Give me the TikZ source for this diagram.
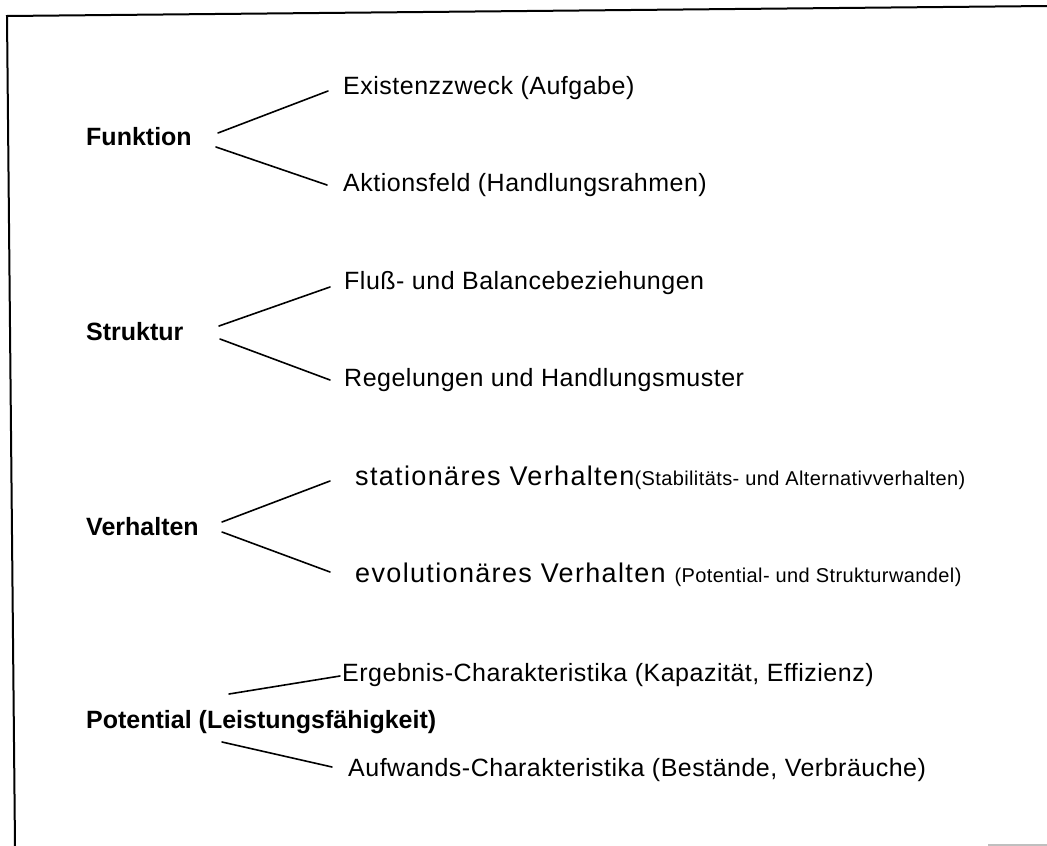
\documentclass[tikz,border=0pt]{standalone}
\usepackage{fontspec}
\setmainfont{Liberation Sans}
\newfontfamily\itemfont[LetterSpace=2]{Liberation Sans}
\newfontfamily\wideitemfont[LetterSpace=5]{Liberation Sans}
\begin{document}
\begin{tikzpicture}[x=1pt,y=-1pt,
  lbl/.style={anchor=west,inner sep=0pt,font=\fontsize{25}{29}\selectfont\bfseries},
  item/.style={anchor=west,inner sep=0pt,font=\fontsize{25}{29}\selectfont\itemfont},
  wideitem/.style={anchor=west,inner sep=0pt,font=\fontsize{27}{31}\selectfont\wideitemfont},
  conn/.style={line width=1.6pt,line cap=round},
  frame/.style={line width=2pt}]
\useasboundingbox (0,0) rectangle (1047,846);
\newcommand{\sm}[1]{{\fontsize{20}{24}\selectfont\itemfont #1}}
% frame
\coordinate (tl) at (7,16);
\coordinate (tr) at (1047,6);
\coordinate (bl) at (15,846);
\draw[frame] (tr) -- (tl) -- (bl);
\coordinate (g1) at (988,845);
\coordinate (g2) at (1047,845);
\draw[gray!50,line width=1.5pt] (g1) -- (g2);
% Funktion
\node[lbl] (fun) at (86,137) {Funktion};
\node[item] (ex) at (343,88) {Existenzzweck (Aufgabe)};
\node[item] (ak) at (343,185) {Aktionsfeld (Handlungsrahmen)};
\coordinate (fa) at (218,133);
\coordinate (fb) at (216,147);
\draw[conn] (fa) -- ([xshift=-15pt,yshift=-3pt]ex.west);
\draw[conn] (fb) -- ([xshift=-16pt]ak.west);
% Struktur
\node[lbl] (str) at (86,332) {Struktur};
\node[item] (fl) at (344,283) {Fluß- und Balancebeziehungen};
\node[item] (re) at (344,380) {Regelungen und Handlungsmuster};
\coordinate (sa) at (219,326);
\coordinate (sb) at (220,339);
\draw[conn] (sa) -- ([xshift=-14pt,yshift=-4pt]fl.west);
\draw[conn] (sb) -- ([xshift=-14pt]re.west);
% Verhalten
\node[lbl] (ver) at (86,527) {Verhalten};
\node[wideitem] (st) at (355,478) {stationäres Verhalten\sm{(Stabilitäts- und Alternativverhalten)}};
\node[wideitem] (ev) at (355,575) {evolutionäres Verhalten \sm{(Potential- und Strukturwandel)}};
\coordinate (va) at (222,522);
\coordinate (vb) at (222,532);
\draw[conn] (va) -- ([xshift=-25pt,yshift=-3pt]st.west);
\draw[conn] (vb) -- ([xshift=-25pt,yshift=3pt]ev.west);
% Potential
\node[lbl] (pot) at (86,722) {Potential (Leistungsfähigkeit)};
\node[item] (er) at (342,675) {Ergebnis-Charakteristika (Kapazität, Effizienz)};
\node[item] (au) at (348,770) {Aufwands-Charakteristika (Bestände, Verbräuche)};
\coordinate (pa) at (229,694);
\coordinate (pb) at (222,742);
\draw[conn] (pa) -- ([xshift=-2pt,yshift=-1pt]er.west);
\draw[conn] (pb) -- ([xshift=-16pt,yshift=3pt]au.west);
\end{tikzpicture}
\end{document}
